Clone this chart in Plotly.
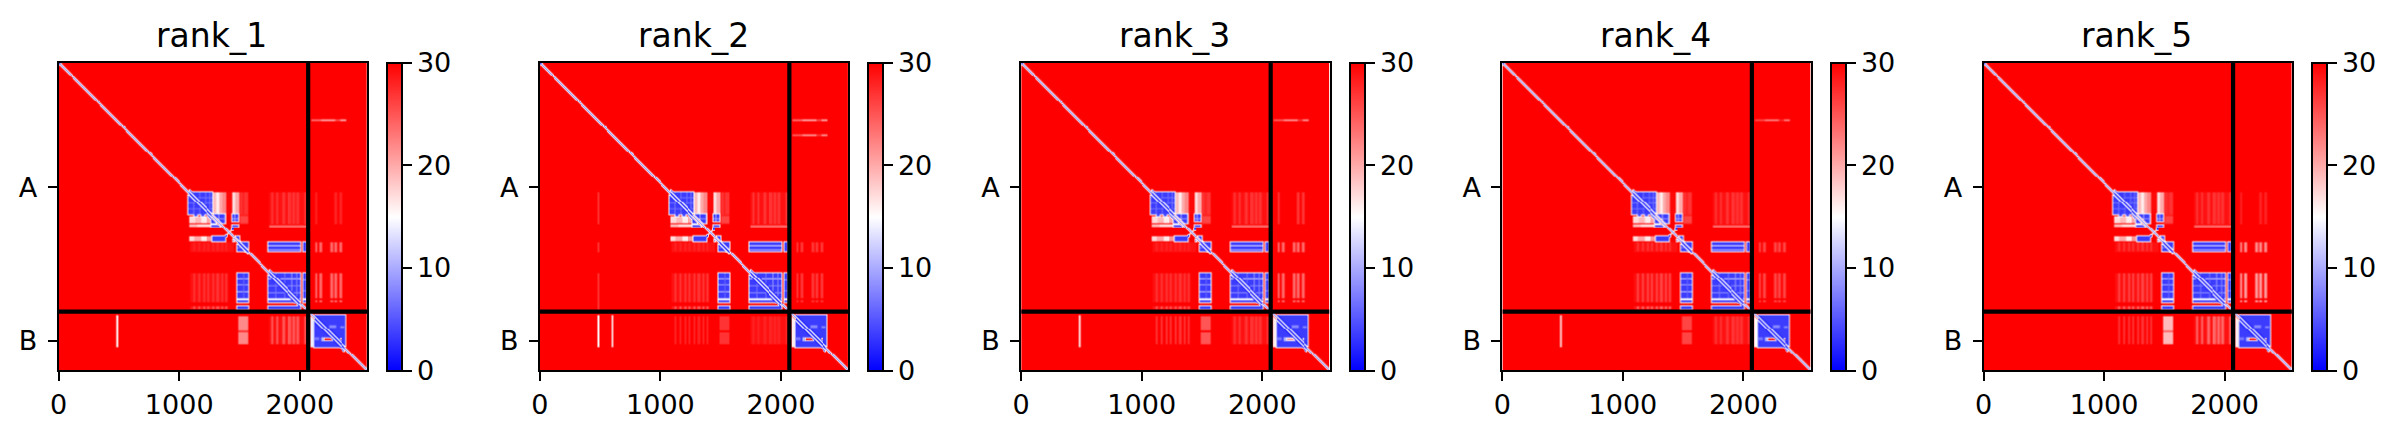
import numpy as np
import plotly.graph_objects as go

RANKS = ["rank_1", "rank_2", "rank_3", "rank_4", "rank_5"]
PANEL_LEFT = [58.7, 539.9, 1021.2, 1502.4, 1983.6]
N_RES = 2558
CHAIN_BREAK = 2070
CHAIN_TICKS = [1035, 2314]
CHAIN_LABELS = ["A", "B"]
X_TICKS = [0, 1000, 2000]
CBAR_TICKS = [0, 10, 20, 30]
STEP = 8

# Patches: x0, x1, y0, y1, value (residue coordinates)
WASH_AREAS = [(1090,1400,1748,1990,29),(1090,1450,1490,1570,29),(1750,2060,1072,1340,29),
              (1490,1570,1072,1340,28),(1750,2055,2110,2340,29),(1090,1400,2030,2055,28.5)]
PALE_COLS_TOP = [(1282,1304,19),(1304,1328,16),(1328,1352,20),(1352,1384,22),(1384,1438,29.5),(1438,1464,17),(1464,1496,20),
                 (1504,1520,27),(1536,1568,27)]
FAINT_B_COLS = [(1760,1776),(1800,1816),(1850,1872),(1900,1928),(1936,1960),(1968,1992),(2035,2051)]
FAINT_A_COLS = [(1112,1128),(1152,1168),(1192,1208),(1232,1248),(1272,1288),(1304,1328),(1344,1360),(1376,1392)]
RIGHT_COLS = [(2130,2150),(2160,2186),(2255,2275),(2285,2310),(2320,2352)]
PALE_ROWS_LEFT = [(1274,1330,1085,1130,17),(1274,1330,1130,1180,19),(1274,1330,1180,1225,16),(1274,1330,1225,1270,20),
                  (1342,1366,1085,1150,19),(1342,1366,1150,1270,17),
                  (1444,1480,1085,1125,17),(1444,1480,1125,1180,20),(1444,1480,1180,1225,16),(1444,1480,1225,1270,21)]
PALE_ROWS_MID = [(1274,1330,1504,1568,26),(1342,1366,1438,1500,20)]
BLUE_BLOCKS = [
    (1072,1272,1072,1262,3.5),(1250,1305,1262,1280,4),(1120,1144,1262,1274,4),(1180,1200,1262,1274,4),
    (1266,1382,1258,1332,3.5),(1438,1493,1258,1314,3.5),
    (1270,1340,1345,1365,3.5),(1438,1493,1345,1365,4),
    (1272,1382,1440,1483,3.5),(1440,1500,1440,1483,3.5),
    (1487,1574,1490,1565,3.5),(1740,2006,1490,1565,3.5),(2028,2055,1490,1565,3.5),
    (1740,2006,1748,1956,3.5),(2028,2055,1748,1956,3.5),(1487,1574,1748,1956,3.5),
    (1740,2006,1975,1990,3.5),(2028,2055,1975,1990,4),(1487,1574,1975,1990,3.5),
    (1740,2006,2030,2050,3.5),(1487,1574,2030,2050,3.5),
    (2116,2380,2097,2360,3.5),
]
X_SHAPE = [(1376,1398,1375,1398,3),(1398,1424,1398,1424,2),(1424,1450,1424,1450,3),
           (1424,1450,1375,1398,3),(1376,1398,1424,1450,3)]
LIGHT_LINES = [
    (1072,1272,1112,1120,7),(1072,1272,1160,1168,7),(1072,1272,1208,1216,6.5),
    (1112,1120,1072,1262,7),(1160,1168,1072,1262,6.5),(1208,1216,1072,1262,6.5),(1248,1256,1072,1262,7),
    (1266,1382,1288,1296,9),(1320,1328,1258,1332,10),(1368,1376,1258,1332,8),
    (1460,1468,1258,1314,10),(1438,1493,1288,1296,10),
    (1740,2006,1516,1524,14),(1740,2006,1544,1552,11),(1487,1574,1528,1536,8),
    (1740,2006,1792,1800,13),(1740,2006,1848,1856,8),(1740,2006,1904,1912,9),
    (1792,1800,1748,1956,7),(1864,1872,1748,1956,7),(1928,1936,1748,1956,9),(1968,1976,1748,1956,8),
    (1487,1574,1792,1800,12),(1487,1574,1840,1848,10),(1487,1574,1896,1904,12),
    (1528,1536,1748,1956,6),(2028,2055,1800,1808,10),(2028,2055,1888,1896,8),
    (2176,2280,2280,2312,11),(2240,2300,2176,2200,8),(2160,2208,2176,2192,8),(2120,2160,2280,2304,7),
    (2328,2372,2184,2200,8),
]
DIAG_BANDS_WIDE = [(1080,1270,32,2.5),(1750,2000,32,2),(2120,2375,32,1.5),(1490,1570,24,2)]
DIAG_BANDS = [(0,N_RES,16,27),(0,N_RES,8,13),(0,N_RES,0,3)]
DIAG_IN_BLOCKS = [(1080,1270,8,2),(1490,1570,8,2),(1750,2000,8,2),(2120,2375,8,1.5)]
TOP_ROW_SEGS = [(2089,2180,3),(2180,2290,0),(2290,2330,5),(2330,2385,0)]

TOP_ROW_470 = [21, 21, 22, 23, 30]
TOP_ROW_600 = [30, 22, 30, 30, 30]
COL_470_B = [15, 15, 17, 18, 30]
COL_600_B = [30, 18, 30, 30, 30]
COL_470_A = [30, 27, 30, 30, 30]
LOW_LEFT_D4 = [22, 27, 25, 26, 19]
LOW_LEFT_D5 = [25, 28, 27, 27, 24]
LOW_LEFT_A = [30, 28, 27, 30, 27]
RIGHT_LEVEL = [24, 27, 24, 26, 21]
RIGHT_ROW_LEVEL = [24, 27, 24, 26, 22]
FAINT_A_LEVEL = [27, 27, 27, 26, 26]
TOP_RIGHT_LEVEL = [28, 30, 27, 30, 28]
B_RED_ROW = [30, 30, 22, 30, 30]
B_PALE_LEFT = [14, 16, 16, 15, 16]

n = int(np.ceil(N_RES / STEP))


def paint(z, x0, x1, y0, y1, v):
    z[int(y0 / STEP):int(y1 / STEP), int(x0 / STEP):int(x1 / STEP)] = v


def diag(z, a, b, half, v):
    for off in range(-int(half / STEP), int(half / STEP) + 1):
        idx = np.arange(max(int(a / STEP), -off, 0), min(int(b / STEP), n - off, n))
        z[idx + off, idx] = v


def build(r):
    z = np.full((n, n), 30.0)
    for x0, x1, y0, y1, v in WASH_AREAS:
        paint(z, x0, x1, y0, y1, v)
    for a, b in FAINT_A_COLS:
        paint(z, a, b, 1748, 1990, FAINT_A_LEVEL[r])
        paint(z, a, b, 1490, 1565, FAINT_A_LEVEL[r] + 1)
        paint(z, a, b, 2030, 2050, FAINT_A_LEVEL[r] - 2)
        paint(z, a, b, 2110, 2340, LOW_LEFT_A[r])
    for a, b, v in PALE_COLS_TOP:
        paint(z, a, b, 1072, 1262, v)
    for a, b in FAINT_B_COLS:
        paint(z, a, b, 1072, 1340, 27)
        paint(z, a, b, 2110, 2340, LOW_LEFT_D5[r])
    for a, b, x0, x1, v in PALE_ROWS_LEFT + PALE_ROWS_MID:
        paint(z, x0, x1, a, b, v)
    paint(z, 1750, 2060, 1344, 1368, 24)
    paint(z, 1490, 1570, 2110, 2340, LOW_LEFT_D4[r])
    paint(z, 1490, 1570, 2224, 2240, min(LOW_LEFT_D4[r] + 5, 30))
    for a, b in RIGHT_COLS:
        paint(z, a, b, 1748, 1956, RIGHT_LEVEL[r])
        paint(z, a, b, 1490, 1570, RIGHT_ROW_LEVEL[r])
        paint(z, a, b, 1975, 1990, RIGHT_LEVEL[r])
        if a > 2280 or a < 2140:
            paint(z, a, b, 1072, 1340, TOP_RIGHT_LEVEL[r])
    for a, b, d in TOP_ROW_SEGS:
        paint(z, a, b, 464, 480, min(TOP_ROW_470[r] + d, 30))
        paint(z, a, b, 592, 608, min(TOP_ROW_600[r] + d, 30))
    paint(z, 472, 488, 2100, 2360, COL_470_B[r])
    paint(z, 596, 612, 2100, 2360, COL_600_B[r])
    paint(z, 472, 488, 1072, 1340, COL_470_A[r])
    paint(z, 472, 488, 1490, 1570, COL_470_A[r])
    paint(z, 472, 488, 1748, 2060, COL_470_A[r])
    for x0, x1, y0, y1, v in BLUE_BLOCKS:
        paint(z, x0 - 8, x1 + 8, y0 - 8, y1 + 8, 15)
    for x0, x1, y0, y1, v in BLUE_BLOCKS:
        paint(z, x0, x1, y0, y1, v)
    for x0, x1, y0, y1, v in X_SHAPE:
        paint(z, x0, x1, y0, y1, v)
    paint(z, 2080, 2112, 2100, 2360, B_PALE_LEFT[r])
    for x0, x1, y0, y1, v in LIGHT_LINES:
        paint(z, x0, x1, y0, y1, v)
    paint(z, 2200, 2350, 2288, 2304, B_RED_ROW[r])
    for a, b, h, v in DIAG_BANDS_WIDE:
        diag(z, a, b, h, v)
    for a, b, h, v in DIAG_BANDS:
        diag(z, a, b, h, v)
    for a, b, h, v in DIAG_IN_BLOCKS:
        diag(z, a, b, h, v)
    return z.astype(np.float32)


BWR = [[0, "#0000ff"], [0.5, "#ffffff"], [1, "#ff0000"]]
W, H = 2401, 438
TOP, BOTTOM, SIZE = 62.7, 370.3, 308.3
FONT = "DejaVu Sans"
TICK_FONT = dict(family=FONT, size=27, color="black")

fig = go.Figure()
for i, (name, left) in enumerate(zip(RANKS, PANEL_LEFT)):
    sfx = "" if i == 0 else str(i + 1)
    fig.add_trace(go.Heatmap(
        z=build(i), x0=STEP / 2, dx=STEP, y0=STEP / 2, dy=STEP,
        zmin=0, zmax=30, colorscale=BWR, zsmooth="best", hoverinfo="skip",
        xaxis="x" + sfx, yaxis="y" + sfx,
        colorbar=dict(
            x=(left + 328.4) / W, xanchor="left", xpad=0, thickness=15.4, thicknessmode="pixels",
            y=1 - (TOP + BOTTOM) / 2 / H, yanchor="middle", ypad=0, len=(BOTTOM - TOP) / H, lenmode="fraction",
            tickvals=CBAR_TICKS, ticks="outside", ticklen=9, tickwidth=2, tickcolor="black",
            outlinewidth=2, outlinecolor="black", tickfont=TICK_FONT,
        ),
    ))
    for xs, ys in (([CHAIN_BREAK, CHAIN_BREAK], [0, N_RES]), ([0, N_RES], [CHAIN_BREAK, CHAIN_BREAK])):
        fig.add_trace(go.Scatter(x=xs, y=ys, mode="lines", line=dict(color="black", width=4.2),
                                 xaxis="x" + sfx, yaxis="y" + sfx, showlegend=False, hoverinfo="skip"))
    common = dict(showgrid=False, zeroline=False, showline=True, mirror=True, linecolor="black", linewidth=2,
                  ticks="outside", ticklen=9, tickwidth=2, tickcolor="black", tickfont=TICK_FONT)
    fig.update_layout({
        "xaxis" + sfx: dict(domain=[left / W, (left + SIZE) / W], range=[0, N_RES], tickvals=X_TICKS,
                            anchor="y" + sfx, **common),
        "yaxis" + sfx: dict(domain=[1 - BOTTOM / H, 1 - TOP / H], range=[N_RES, 0], tickvals=CHAIN_TICKS,
                            ticktext=CHAIN_LABELS, anchor="x" + sfx, ticklabelstandoff=5, **common),
    })
    fig.add_annotation(text=name, x=(left + SIZE / 2 - 1) / W, y=1 - 57 / H, xref="paper", yref="paper",
                       xanchor="center", yanchor="bottom", showarrow=False,
                       font=dict(family=FONT, size=33, color="black"))

fig.update_layout(width=W, height=H, margin=dict(l=0, r=0, t=0, b=0, autoexpand=False), paper_bgcolor="white",
                  plot_bgcolor="white", showlegend=False)
fig.write_html("out.html", post_script="document.body.style.margin='0';",
               config={"displayModeBar": False})
